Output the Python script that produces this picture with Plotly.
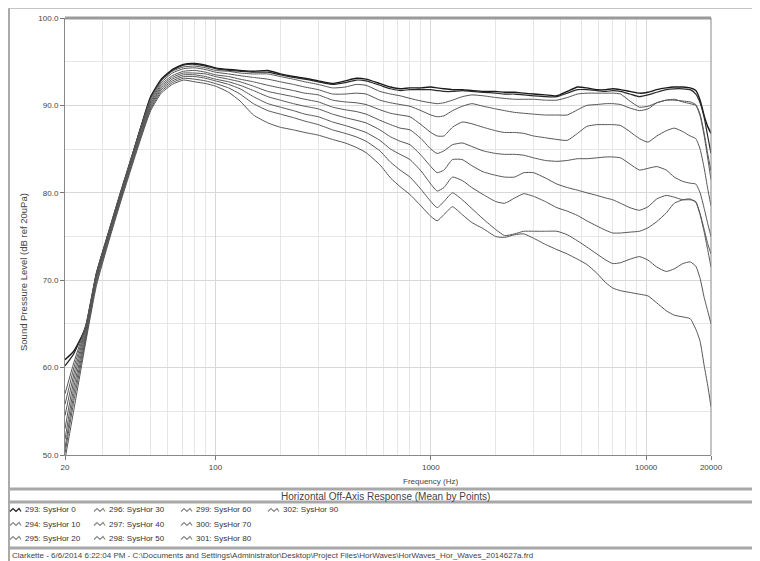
import math
import plotly.graph_objects as go

# ---------------- data ----------------
freqs = [20, 22, 25, 28, 32, 36, 40, 45, 50, 56, 63, 71, 80, 90,
         100, 115, 130, 150, 175, 200, 230, 260, 300, 350,
         400, 450, 500, 580, 650, 720, 800, 900, 1000, 1070,
         1150, 1260, 1400, 1550, 1750, 2000, 2200, 2450, 2700, 3000,
         3400, 3850, 4300, 4800, 5300, 5900, 6500, 7000, 7600, 8400,
         9300, 10200, 11200, 12400, 13500, 14800, 16000, 17000, 17800, 18600,
         19300, 20000]

series_names = ["293: SysHor 0", "294: SysHor 10", "295: SysHor 20", "296: SysHor 30",
                "297: SysHor 40", "298: SysHor 50", "299: SysHor 60", "300: SysHor 70",
                "301: SysHor 80", "302: SysHor 90"]

spl_hor0 = [60.9, 61.9, 64.6, 70.6, 75.4, 79.6, 83.3, 87.5, 91.0, 93.0, 94.1, 94.7, 94.8, 94.6,
            94.3, 94.1, 94.0, 93.9, 94.0, 93.6, 93.3, 93.1, 92.8, 92.5,
            92.8, 93.1, 93.0, 92.5, 92.1, 91.9, 92.0, 92.0, 92.1, 92.0,
            91.9, 91.8, 91.8, 91.7, 91.6, 91.6, 91.5, 91.5, 91.4, 91.3,
            91.2, 91.1, 91.6, 92.1, 92.0, 91.8, 91.8, 91.9, 91.8, 91.6,
            91.4, 91.5, 91.8, 92.0, 92.1, 92.1, 92.0, 91.7, 90.6, 88.8,
            87.6, 86.8]
spl_hor10 = [60.2, 61.6, 64.8, 70.8, 75.6, 79.8, 83.4, 87.5, 90.9, 92.9, 94.0, 94.6, 94.7, 94.5,
             94.2, 94.0, 93.9, 93.8, 93.8, 93.5, 93.2, 93.0, 92.7, 92.4,
             92.6, 92.9, 92.8, 92.3, 91.9, 91.7, 91.8, 91.8, 91.8, 91.7,
             91.6, 91.6, 91.7, 91.6, 91.5, 91.4, 91.3, 91.3, 91.2, 91.1,
             91.0, 91.0, 91.4, 91.8, 91.8, 91.7, 91.6, 91.7, 91.6, 91.3,
             91.0, 91.2, 91.5, 91.8, 91.9, 91.9, 91.8, 91.3, 90.3, 88.6,
             86.5, 84.5]
spl_hor20 = [57.0, 60.6, 64.9, 70.9, 75.7, 79.9, 83.5, 87.5, 90.8, 92.8, 93.9, 94.4, 94.5, 94.3,
             94.0, 93.9, 93.7, 93.6, 93.6, 93.3, 93.0, 92.7, 92.4, 92.0,
             92.1, 92.4, 92.3, 91.6, 91.3, 91.1, 90.8, 90.5, 90.3, 90.2,
             90.3, 90.6, 91.0, 91.2, 91.1, 90.9, 90.8, 90.7, 90.7, 90.7,
             90.6, 90.6, 90.9, 91.3, 91.4, 91.4, 91.4, 91.4, 91.3, 90.5,
             89.8, 89.9, 90.3, 90.6, 90.6, 90.5, 90.4, 90.1, 89.0, 86.8,
             84.5, 82.5]
spl_hor30 = [55.8, 60.0, 64.7, 70.8, 75.6, 79.8, 83.4, 87.4, 90.6, 92.6, 93.7, 94.2, 94.3, 94.1,
             93.8, 93.6, 93.4, 93.2, 93.0, 92.7, 92.4, 92.1, 91.8, 91.3,
             91.3, 91.4, 91.3, 90.6, 90.3, 90.1, 89.9, 89.4, 88.9, 88.7,
             88.8, 89.4, 89.9, 90.2, 89.9, 89.6, 89.4, 89.2, 89.1, 89.0,
             88.9, 88.9, 88.9, 89.5, 90.0, 90.1, 90.2, 90.2, 90.1, 89.7,
             89.4, 89.6, 90.3, 90.6, 90.7, 90.4, 90.2, 90.0, 88.8, 86.5,
             84.0, 81.5]
spl_hor40 = [54.5, 59.3, 64.5, 70.6, 75.5, 79.7, 83.3, 87.2, 90.4, 92.4, 93.4, 93.9, 94.0, 93.8,
             93.5, 93.3, 93.0, 92.7, 92.3, 92.0, 91.7, 91.4, 91.2, 90.6,
             90.4, 90.3, 90.1, 89.5, 89.1, 88.9, 88.7, 87.8, 86.9, 86.5,
             86.5, 87.5, 88.1, 87.9, 87.5, 87.1, 86.9, 86.9, 86.8, 86.5,
             86.3, 86.1, 86.0, 86.8, 87.6, 87.8, 87.8, 87.8, 87.7, 87.0,
             86.2, 85.8, 86.5, 87.1, 87.4, 87.0, 86.5, 86.2, 85.0, 82.8,
             80.5, 78.5]
spl_hor50 = [53.0, 58.6, 64.2, 70.4, 75.3, 79.5, 83.1, 87.0, 90.2, 92.2, 93.2, 93.7, 93.7, 93.6,
             93.3, 93.0, 92.7, 92.2, 91.6, 91.3, 91.0, 90.7, 90.4, 89.8,
             89.5, 89.3, 89.0, 88.3, 87.8, 87.4, 87.2, 86.2, 85.0, 84.5,
             84.8, 85.5, 85.7, 85.3, 84.8, 84.5, 84.4, 84.4, 84.3, 84.0,
             83.7, 83.6, 83.7, 83.9, 83.9, 84.0, 84.1, 84.1, 84.0, 83.3,
             82.6, 82.8, 83.0, 82.6, 81.8, 81.3, 81.1, 81.0, 80.0, 78.2,
             76.5, 75.0]
spl_hor60 = [51.8, 57.8, 63.9, 70.2, 75.1, 79.3, 82.9, 86.8, 90.0, 92.0, 93.0, 93.5, 93.5, 93.3,
             93.0, 92.7, 92.3, 91.7, 91.0, 90.6, 90.2, 89.9, 89.6, 89.0,
             88.6, 88.3, 88.0, 87.2, 86.4, 85.9, 85.5, 84.3, 83.0, 82.3,
             82.6, 83.8, 83.8, 83.1, 82.4, 82.0, 81.8, 81.8, 82.3, 82.3,
             81.7, 81.0, 80.6, 80.3, 80.0, 79.7, 79.4, 79.2, 78.8, 78.3,
             78.0, 78.4, 79.3, 79.7, 79.5, 79.2, 79.2, 79.0, 77.6, 75.8,
             74.2, 73.0]
spl_hor70 = [50.8, 57.0, 63.6, 70.0, 74.9, 79.1, 82.7, 86.6, 89.8, 91.8, 92.8, 93.3, 93.3, 93.1,
             92.8, 92.4, 91.9, 91.0, 90.2, 89.8, 89.4, 89.0, 88.7, 88.1,
             87.7, 87.3, 86.9, 86.0, 85.0, 84.4, 83.8, 82.5, 81.0, 80.2,
             80.6, 81.8, 81.4, 80.6, 79.8, 79.0, 78.8, 79.4, 79.9, 79.6,
             79.0, 78.3, 77.9, 77.4, 76.8, 76.2, 75.7, 75.4, 75.4, 75.5,
             75.6, 76.0, 76.7, 77.7, 78.8, 79.2, 79.3, 78.9, 77.5, 75.5,
             73.5, 71.5]
spl_hor80 = [50.2, 56.2, 63.3, 69.7, 74.7, 78.9, 82.5, 86.4, 89.6, 91.6, 92.6, 93.1, 93.0, 92.8,
             92.5, 92.0, 91.3, 90.2, 89.4, 89.0, 88.6, 88.2, 87.8, 87.2,
             86.8, 86.4, 85.9, 84.8, 83.5, 82.6, 81.8, 80.4, 79.0, 78.3,
             79.0, 80.0, 79.2, 78.2, 77.0, 75.8, 75.1, 75.3, 75.6, 75.6,
             75.6, 75.6, 75.2, 74.5, 73.8, 73.0, 72.3, 71.9, 72.0, 72.4,
             72.7, 72.3, 71.5, 71.0, 71.3, 71.9, 72.1, 71.6, 70.2, 68.0,
             66.5, 65.0]
spl_hor90 = [49.5, 55.2, 63.0, 69.4, 74.5, 78.7, 82.3, 86.2, 89.4, 91.4, 92.4, 92.9, 92.7, 92.5,
             92.2, 91.5, 90.5, 88.9, 88.0, 87.5, 87.2, 86.9, 86.6, 86.1,
             85.7, 85.2, 84.6, 83.2, 81.7, 80.7, 79.8, 78.5, 77.3, 76.8,
             77.5, 78.4, 77.5, 76.6, 75.9, 75.0, 74.9, 75.2, 75.3, 74.8,
             74.1, 73.5, 73.0, 72.4, 71.8, 70.8, 69.7, 69.1, 68.8, 68.6,
             68.4, 68.2, 67.4, 66.5, 66.0, 65.8, 65.6, 64.4, 63.0, 60.2,
             58.0, 55.5]

all_series = [spl_hor0, spl_hor10, spl_hor20, spl_hor30, spl_hor40,
              spl_hor50, spl_hor60, spl_hor70, spl_hor80, spl_hor90]

x_tick_vals = [20, 100, 1000, 10000, 20000]
x_tick_text = ["20", "100", "1000", "10000", "20000"]
y_tick_vals = [50, 60, 70, 80, 90, 100]
y_tick_text = ["50.0", "60.0", "70.0", "80.0", "90.0", "100.0"]

chart_title = "Horizontal Off-Axis Response (Mean by Points)"
x_title = "Frequency (Hz)"
y_title = "Sound Pressure Level (dB ref 20uPa)"
footer_text = ("Clarkette - 6/6/2014 6:22:04 PM - C:\\Documents and Settings\\Administrator\\Desktop\\"
               "Project Files\\HorWaves\\HorWaves_Hor_Waves_2014627a.frd")

# ---------------- layout geometry ----------------
# page body adds an 8 px offset; work in window pixels and subtract it
OFF = 8
W, H = 760 - OFF, 561 - OFF
L, R, T, B = 65, 711, 18, 455   # plot area in window pixels


def px(x):
    return (x - L) / (R - L)


def py(y):
    return (B - y) / (B - T)


FONT = "Liberation Sans, Arial, sans-serif"

fig = go.Figure()
line_colors = ["#1a1a1a", "#2a2a2a"] + ["#555555"] * 8
line_widths = [1.4, 1.2] + [1.0] * 8
for name, ys, c, w in zip(series_names, all_series, line_colors, line_widths):
    fig.add_trace(go.Scatter(x=freqs, y=ys, mode="lines", name=name,
                             line=dict(color=c, width=w, shape="spline", smoothing=0.5),
                             showlegend=False, hoverinfo="skip"))

minor_x = [30, 40, 50, 60, 70, 80, 90] + [v * m for m in (100, 1000) for v in range(2, 10)]
minor_x = [v for v in minor_x if 20 < v < 20000]

fig.update_layout(
    width=W, height=H,
    margin=dict(l=L - OFF, r=(W + OFF) - R, t=T - OFF, b=(H + OFF) - B, pad=0, autoexpand=False),
    paper_bgcolor="white", plot_bgcolor="white",
    font=dict(family=FONT, size=8, color="#444"),
    xaxis=dict(type="log", range=[math.log10(20), math.log10(20000)],
               tickvals=x_tick_vals, ticktext=x_tick_text,
               ticks="outside", ticklen=4, tickcolor="#777",
               showline=True, linecolor="#888", linewidth=1, mirror=False,
               showgrid=True, gridcolor="#d8d8d8", gridwidth=1,
               minor=dict(tickvals=minor_x, showgrid=True, gridcolor="#e6e6e6", ticks=""),
               tickfont=dict(size=8, color="#444"), zeroline=False, automargin=False),
    yaxis=dict(range=[50, 100], tickvals=y_tick_vals, ticktext=y_tick_text,
               ticks="outside", ticklen=4, tickcolor="#777",
               showline=True, linecolor="#888", linewidth=1,
               showgrid=True, gridcolor="#d8d8d8", gridwidth=1,
               minor=dict(dtick=5, showgrid=True, gridcolor="#e6e6e6", ticks=""),
               tickfont=dict(size=8, color="#444"), zeroline=False, automargin=False),
)

shapes = []
# plot frame
shapes.append(dict(type="line", xref="paper", yref="paper", x0=0, x1=1, y0=1, y1=1,
                   line=dict(color="#999", width=3)))
shapes.append(dict(type="line", xref="paper", yref="paper", x0=1, x1=1, y0=0, y1=1,
                   line=dict(color="#888", width=1)))
# outer window frame
shapes.append(dict(type="line", xref="paper", yref="paper", x0=px(8), x1=px(760), y0=py(8.5), y1=py(8.5),
                   line=dict(color="#c4c4c4", width=1)))
shapes.append(dict(type="line", xref="paper", yref="paper", x0=px(9), x1=px(9), y0=py(8.5), y1=py(561),
                   line=dict(color="#aaa", width=2)))
# separator bands
for yb in (489, 502, 548):
    shapes.append(dict(type="line", xref="paper", yref="paper", x0=px(8), x1=px(760), y0=py(yb), y1=py(yb),
                       line=dict(color="#a8a8a8", width=3)))


def note(text, x, y, size=8, color="#444", xanchor="center", angle=0):
    return dict(text=text, x=px(x), y=py(y), xref="paper", yref="paper",
                xanchor=xanchor, yanchor="middle", showarrow=False, textangle=angle,
                font=dict(family=FONT, size=size, color=color))


annotations = [
    note(x_title, 430, 481),
    note(y_title, 23, 272, size=9.5, angle=-90),
    note(chart_title, 385, 496, size=10),
    note(footer_text, 10, 555, xanchor="left"),
]

# legend: column-major 3 rows
col_x = [10, 94, 181, 268]
row_y = [510, 524, 538]
for i, name in enumerate(series_names):
    col, row = divmod(i, 3)
    ix, iy = col_x[col], row_y[row]
    icol = "#222" if i == 0 else "#888"
    path = "M {:.5f},{:.5f} L {:.5f},{:.5f} L {:.5f},{:.5f} L {:.5f},{:.5f} L {:.5f},{:.5f}".format(
        px(ix), py(iy + 1.5), px(ix + 3), py(iy - 1.5), px(ix + 6), py(iy + 1.5),
        px(ix + 9), py(iy - 1.5), px(ix + 11), py(iy + 1.5))
    shapes.append(dict(type="path", xref="paper", yref="paper", path=path,
                       line=dict(color=icol, width=1.2)))
    annotations.append(note(name, ix + 13, iy, color="#333", xanchor="left"))

fig.update_layout(shapes=shapes, annotations=annotations)
fig.write_html("out.html")
